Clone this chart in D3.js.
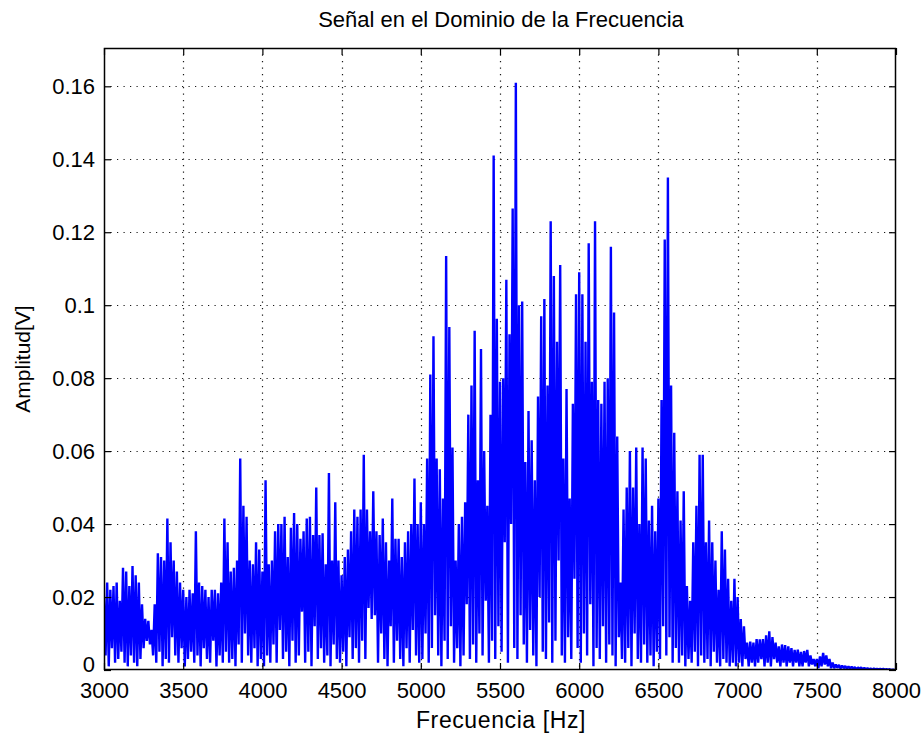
<!DOCTYPE html>
<html>
<head>
<meta charset="utf-8">
<script src="https://cdn.jsdelivr.net/npm/d3@7"></script>
<style>
  body { margin: 0; background: #fff; }
  text { font-family: "Liberation Sans", Arial, sans-serif; fill: #000; }
</style>
</head>
<body>
<svg id="chart" width="924" height="739"></svg>
<script>
// ---- text ----
const titleText = "Señal en el Dominio de la Frecuencia";
const xLabelText = "Frecuencia [Hz]";
const yLabelText = "Amplitud[V]";

// ---- axes ----
const xTicks = [3000, 3500, 4000, 4500, 5000, 5500, 6000, 6500, 7000, 7500, 8000];
const yTicks = [0, 0.02, 0.04, 0.06, 0.08, 0.1, 0.12, 0.14, 0.16];
const yTickLabels = ["0", "0.02", "0.04", "0.06", "0.08", "0.1", "0.12", "0.14", "0.16"];

// ---- spectrum: one local maximum and one local minimum per 20 Hz bin ----
const binStartHz = 3000;
const binStepHz = 20;

const peakAmp = [
  // 3000 - 3980 Hz
  0.020, 0.024, 0.022, 0.023, 0.024, 0.019, 0.028, 0.027, 0.023, 0.0285,
  0.026, 0.024, 0.018, 0.014, 0.0135, 0.011, 0.018, 0.032, 0.031, 0.030,
  0.0415, 0.035, 0.030, 0.027, 0.024, 0.022, 0.020, 0.022, 0.021, 0.038,
  0.024, 0.023, 0.022, 0.020, 0.022, 0.022, 0.021, 0.024, 0.0415, 0.035,
  0.027, 0.028, 0.030, 0.058, 0.045, 0.042, 0.030, 0.029, 0.035, 0.033,
  // 4000 - 4980 Hz
  0.027, 0.052, 0.029, 0.030, 0.038, 0.040, 0.040, 0.042, 0.031, 0.039,
  0.043, 0.040, 0.036, 0.038, 0.0415, 0.042, 0.037, 0.050, 0.037, 0.0375,
  0.029, 0.054, 0.030, 0.046, 0.030, 0.026, 0.031, 0.033, 0.038, 0.044,
  0.042, 0.044, 0.059, 0.044, 0.038, 0.049, 0.038, 0.037, 0.0415, 0.035,
  0.030, 0.047, 0.036, 0.036, 0.031, 0.035, 0.038, 0.040, 0.0525, 0.040,
  // 5000 - 5980 Hz
  0.046, 0.040, 0.058, 0.081, 0.0915, 0.058, 0.055, 0.047, 0.1135, 0.094,
  0.061, 0.030, 0.040, 0.042, 0.046, 0.070, 0.078, 0.093, 0.052, 0.088,
  0.060, 0.045, 0.070, 0.141, 0.0963, 0.079, 0.080, 0.107, 0.092, 0.1265,
  0.161, 0.100, 0.101, 0.057, 0.071, 0.063, 0.052, 0.075, 0.097, 0.1017,
  0.078, 0.123, 0.108, 0.090, 0.111, 0.058, 0.077, 0.047, 0.073, 0.103,
  // 6000 - 6980 Hz
  0.109, 0.103, 0.090, 0.117, 0.079, 0.123, 0.074, 0.073, 0.079, 0.080,
  0.116, 0.098, 0.064, 0.024, 0.044, 0.050, 0.060, 0.050, 0.061, 0.040,
  0.061, 0.058, 0.041, 0.045, 0.038, 0.047, 0.074, 0.118, 0.135, 0.078,
  0.065, 0.049, 0.041, 0.049, 0.023, 0.019, 0.035, 0.045, 0.059, 0.059,
  0.035, 0.041, 0.035, 0.030, 0.022, 0.038, 0.033, 0.025, 0.019, 0.025,
  // 7000 - 7980 Hz
  0.020, 0.014, 0.012, 0.0075, 0.0078, 0.0075, 0.0085, 0.0084, 0.0085, 0.0095,
  0.0106, 0.009, 0.0075, 0.0065, 0.007, 0.0068, 0.0065, 0.006, 0.0055, 0.0056,
  0.005, 0.0052, 0.0055, 0.004, 0.003, 0.003, 0.0037, 0.0047, 0.004, 0.003,
  0.002, 0.0015, 0.0014, 0.0012, 0.0011, 0.001, 0.0009, 0.0008, 0.0007, 0.0007,
  0.0006, 0.0005, 0.0004, 0.0004, 0.0003, 0.0003, 0.0003, 0.0002, 0.0002, 0.0001
];

const troughAmp = [
  // 3010 - 3990 Hz
  0.004, 0.001, 0.006, 0.002, 0.003, 0.005, 0.002, 0.001, 0.004, 0.002,
  0.001, 0.003, 0.006, 0.008, 0.007, 0.004, 0.002, 0.005, 0.001, 0.003,
  0.002, 0.009, 0.004, 0.002, 0.006, 0.001, 0.003, 0.005, 0.002, 0.004,
  0.001, 0.006, 0.003, 0.002, 0.008, 0.001, 0.004, 0.002, 0.005, 0.002,
  0.003, 0.001, 0.007, 0.002, 0.010, 0.004, 0.002, 0.006, 0.001, 0.003,
  // 4010 - 4990 Hz
  0.001, 0.004, 0.002, 0.007, 0.002, 0.011, 0.003, 0.005, 0.001, 0.008,
  0.002, 0.004, 0.016, 0.002, 0.005, 0.001, 0.012, 0.003, 0.006, 0.002,
  0.004, 0.001, 0.007, 0.003, 0.002, 0.005, 0.001, 0.009, 0.003, 0.006,
  0.002, 0.008, 0.003, 0.017, 0.014, 0.015, 0.002, 0.010, 0.003, 0.001,
  0.012, 0.002, 0.008, 0.003, 0.001, 0.006, 0.002, 0.011, 0.004, 0.002,
  // 5010 - 5990 Hz
  0.003, 0.010, 0.002, 0.006, 0.015, 0.004, 0.001, 0.008, 0.003, 0.012,
  0.002, 0.006, 0.001, 0.004, 0.018, 0.003, 0.007, 0.002, 0.010, 0.004,
  0.019, 0.002, 0.008, 0.003, 0.012, 0.005, 0.035, 0.002, 0.040, 0.006,
  0.003, 0.015, 0.007, 0.002, 0.011, 0.004, 0.001, 0.020, 0.005, 0.003,
  0.013, 0.002, 0.008, 0.030, 0.004, 0.002, 0.009, 0.003, 0.025, 0.006,
  // 6010 - 6990 Hz
  0.002, 0.010, 0.004, 0.018, 0.001, 0.006, 0.003, 0.012, 0.002, 0.007,
  0.004, 0.001, 0.009, 0.003, 0.002, 0.006, 0.001, 0.010, 0.003, 0.002,
  0.007, 0.002, 0.004, 0.001, 0.005, 0.003, 0.012, 0.004, 0.009, 0.002,
  0.006, 0.002, 0.004, 0.001, 0.003, 0.002, 0.005, 0.001, 0.004, 0.002,
  0.003, 0.001, 0.005, 0.002, 0.001, 0.003, 0.002, 0.001, 0.002, 0.001,
  // 7010 - 7990 Hz
  0.002, 0.001, 0.003, 0.001, 0.002, 0.001, 0.002, 0.003, 0.001, 0.002,
  0.001, 0.003, 0.002, 0.001, 0.002, 0.001, 0.002, 0.001, 0.002, 0.001,
  0.001, 0.002, 0.001, 0.0015, 0.001, 0.0005, 0.001, 0.0015, 0.001, 0.0005,
  0.0005, 0.0006, 0.0004, 0.0005, 0.0003, 0.0004, 0.0003, 0.0002, 0.0003, 0.0002,
  0.0002, 0.0002, 0.0001, 0.0002, 0.0001, 0.0001, 0.0001, 0.0001, 0.0, 0.0001
];

// ---- layout ----
const W = 924, H = 739;
const plot = { left: 104, right: 896, top: 48, bottom: 670 };
const tickLen = 7;

const svg = d3.select("#chart");
svg.append("rect").attr("width", W).attr("height", H).attr("fill", "#fff");

const x = d3.scaleLinear().domain([3000, 8000]).range([plot.left, plot.right]);
const y = d3.scaleLinear().domain([0, 0.1705]).range([plot.bottom, plot.top]);

// dotted grid
const grid = svg.append("g")
  .attr("stroke", "#1a1a1a")
  .attr("stroke-width", 1.2)
  .attr("stroke-dasharray", "1.2,5.3");
grid.selectAll("line.gx")
  .data(xTicks.slice(1, -1))
  .join("line")
  .attr("x1", d => Math.round(x(d)) + 0.5).attr("x2", d => Math.round(x(d)) + 0.5)
  .attr("y1", plot.top).attr("y2", plot.bottom);
grid.selectAll("line.gy")
  .data(yTicks.slice(1))
  .join("line")
  .attr("y1", d => Math.round(y(d)) + 0.5).attr("y2", d => Math.round(y(d)) + 0.5)
  .attr("x1", plot.left).attr("x2", plot.right);

// spectrum trace: alternate bin maxima and minima
const trace = [];
peakAmp.forEach((p, i) => {
  const f = binStartHz + i * binStepHz;
  trace.push([f, p]);
  trace.push([f + binStepHz / 2, troughAmp[i]]);
});

svg.append("clipPath").attr("id", "plotClip")
  .append("rect")
  .attr("x", plot.left).attr("y", plot.top)
  .attr("width", plot.right - plot.left).attr("height", plot.bottom - plot.top);

svg.append("path")
  .datum(trace)
  .attr("clip-path", "url(#plotClip)")
  .attr("fill", "none")
  .attr("stroke", "#0000ff")
  .attr("stroke-width", 2.4)
  .attr("stroke-linejoin", "bevel")
  .attr("d", d3.line().x(d => x(d[0])).y(d => y(d[1])));

// axes with inward ticks on all four sides
const fontTick = "22px";
const gB = svg.append("g").attr("transform", `translate(0,${plot.bottom})`)
  .call(d3.axisBottom(x).tickValues(xTicks).tickFormat(d3.format("d"))
    .tickSize(-tickLen).tickSizeOuter(0).tickPadding(12));
const gT = svg.append("g").attr("transform", `translate(0,${plot.top})`)
  .call(d3.axisTop(x).tickValues(xTicks).tickFormat("")
    .tickSize(-tickLen).tickSizeOuter(0));
const gL = svg.append("g").attr("transform", `translate(${plot.left},0)`)
  .call(d3.axisLeft(y).tickValues(yTicks).tickFormat((d, i) => yTickLabels[i])
    .tickSize(-tickLen).tickSizeOuter(0).tickPadding(9));
const gR = svg.append("g").attr("transform", `translate(${plot.right},0)`)
  .call(d3.axisRight(y).tickValues(yTicks).tickFormat("")
    .tickSize(-tickLen).tickSizeOuter(0));

[gB, gT, gL, gR].forEach(g => {
  g.select(".domain").remove();
  g.selectAll(".tick line").attr("stroke", "#000").attr("stroke-width", 1.2);
  g.selectAll("text")
    .attr("font-family", "'Liberation Sans', Arial, sans-serif")
    .attr("font-size", fontTick)
    .attr("fill", "#000");
});
// the zero label sits just above the x axis labels
gL.selectAll(".tick").filter(d => d === 0).select("text").attr("dy", "0.05em");

// frame
svg.append("rect")
  .attr("x", plot.left + 0.5).attr("y", plot.top + 0.5)
  .attr("width", plot.right - plot.left - 1).attr("height", plot.bottom - plot.top - 1)
  .attr("fill", "none").attr("stroke", "#000").attr("stroke-width", 1.5);

// title and labels
svg.append("text")
  .attr("x", 501).attr("y", 27)
  .attr("text-anchor", "middle")
  .attr("font-size", "22px")
  .text(titleText);

svg.append("text")
  .attr("x", 501).attr("y", 728)
  .attr("text-anchor", "middle")
  .attr("font-size", "23px")
  .attr("letter-spacing", "0.6px")
  .text(xLabelText);

svg.append("text")
  .attr("transform", "translate(30,359) rotate(-90)")
  .attr("text-anchor", "middle")
  .attr("font-size", "21px")
  .text(yLabelText);
</script>
</body>
</html>
